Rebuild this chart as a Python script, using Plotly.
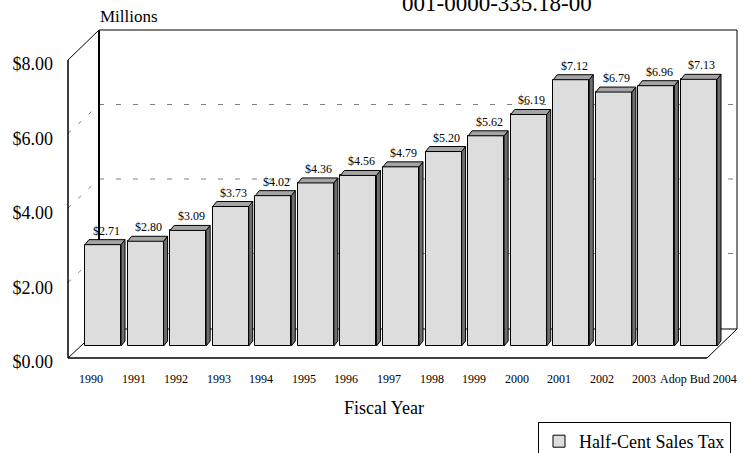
import plotly.graph_objects as go

# ---- data ----
categories = ["1990", "1991", "1992", "1993", "1994", "1995", "1996", "1997",
              "1998", "1999", "2000", "2001", "2002", "2003", "Adop Bud 2004"]
values = [2.71, 2.80, 3.09, 3.73, 4.02, 4.36, 4.56, 4.79,
          5.20, 5.62, 6.19, 7.12, 6.79, 6.96, 7.13]
y_ticks = [0, 2, 4, 6, 8]
y_tick_labels = ["$0.00", "$2.00", "$4.00", "$6.00", "$8.00"]
series_name = "Half-Cent Sales Tax"
title_text = "001-0000-335.18-00"

FONT = "Liberation Serif, Times New Roman, serif"
W, H = 748, 453
L, R, T, B = 68, 11, 30, 91
PW, PH = W - L - R, H - T - B


def px(x):
    return (x - L) / PW


def py(y):
    return (H - B - y) / PH


idx = list(range(len(categories)))
bar_w = 0.846
dx = 4 / 42.57      # depth in x data units
dy = 5 / 37.4       # depth in y data units

fig = go.Figure()
fig.add_trace(go.Bar(
    x=idx, y=values, width=bar_w, name=series_name,
    marker=dict(color="#dddddd", line=dict(color="black", width=1)),
    hoverinfo="skip", showlegend=True,
))
# invisible trace for the front value axis
fig.add_trace(go.Scatter(x=[None], y=[None], xaxis="x", yaxis="y2",
                         showlegend=False, hoverinfo="skip"))

shapes = []
# 3D faces of bars
for i, v in zip(idx, values):
    xl, xr = i - bar_w / 2, i + bar_w / 2
    shapes.append(dict(type="path", xref="x", yref="y", layer="above",
                       path=f"M {xr} 0 L {xr+dx} {dy} L {xr+dx} {v+dy} L {xr} {v} Z",
                       fillcolor="#6e6e6e", line=dict(color="black", width=1)))
    shapes.append(dict(type="path", xref="x", yref="y", layer="above",
                       path=f"M {xl} {v} L {xl+dx} {v+dy} L {xr+dx} {v+dy} L {xr} {v} Z",
                       fillcolor="#a4a4a4", line=dict(color="black", width=1)))

# gridlines on back wall and side wall (dashed)
for v in y_ticks[1:-1]:
    shapes.append(dict(type="line", xref="paper", yref="y2", layer="below",
                       ysizemode="pixel", yanchor=v, x0=px(99), x1=px(737), y0=34, y1=34,
                       line=dict(color="#808080", width=1, dash="5px,12px")))
    shapes.append(dict(type="line", xref="paper", yref="y2", layer="below",
                       ysizemode="pixel", yanchor=v, x0=0, x1=px(99), y0=5, y1=34,
                       line=dict(color="#808080", width=1, dash="4px,10px")))

# box frame (chart chrome)
def seg(x0, y0, x1, y1, w=1, layer="below"):
    shapes.append(dict(type="line", xref="paper", yref="paper", layer=layer,
                       x0=px(x0), y0=py(y0), x1=px(x1), y1=py(y1),
                       line=dict(color="black", width=w)))

seg(99, 30, 737, 30)          # back wall top
seg(737, 30, 737, 329)        # back wall right
seg(99, 30, 99, 329, 2)       # back wall left
seg(99, 329, 737, 329)        # floor back
seg(68, 60, 99, 30)           # side wall top
seg(68, 60, 68, 358, 1.5)     # front left edge
seg(68, 358, 99, 329)         # floor left diagonal
seg(68, 358, 707, 358, 1.5)   # floor front
seg(707, 358, 737, 329)       # floor right diagonal

annotations = []
for i, v in zip(idx, values):
    annotations.append(dict(x=i, y=v, xref="x", yref="y", text=f"${v:.2f}",
                            showarrow=False, xshift=3, yshift=14,
                            xanchor="center", yanchor="middle",
                            font=dict(family=FONT, size=12, color="black")))
for i, c in zip(idx, categories):
    annotations.append(dict(x=i, y=py(379), xref="x", yref="paper", text=c,
                            showarrow=False, xshift=(0 if i == len(categories) - 1 else -12),
                            xanchor="center", yanchor="middle",
                            font=dict(family=FONT, size=12, color="black")))
annotations.append(dict(x=px(384), y=py(408), xref="paper", yref="paper",
                        text="Fiscal Year", showarrow=False,
                        xanchor="center", yanchor="middle",
                        font=dict(family=FONT, size=18, color="black")))
annotations.append(dict(x=px(128.5), y=py(17), xref="paper", yref="paper",
                        text="Millions", showarrow=False,
                        xanchor="center", yanchor="middle",
                        font=dict(family=FONT, size=17, color="black")))
annotations.append(dict(x=px(496.5), y=py(3), xref="paper", yref="paper",
                        text=title_text, showarrow=False,
                        xanchor="center", yanchor="middle",
                        font=dict(family=FONT, size=23, color="black")))

fig.update_layout(
    width=W, height=H,
    margin=dict(l=L, r=R, t=T, b=B, pad=0, autoexpand=False),
    paper_bgcolor="white", plot_bgcolor="rgba(0,0,0,0)",
    showlegend=True,
    xaxis=dict(range=[(L - 103) / 42.57, (W - R - 103) / 42.57], visible=False,
               fixedrange=True),
    yaxis=dict(range=[(346 - (H - B)) / 37.4, (346 - T) / 37.4], visible=False,
               fixedrange=True),
    yaxis2=dict(range=[0, 8], domain=[0, py(64)], anchor="free", position=0,
                side="left", tickvals=y_ticks, ticktext=y_tick_labels,
                showgrid=False, zeroline=False, showline=False, ticks="",
                ticklabelstandoff=15, fixedrange=True,
                tickfont=dict(family=FONT, size=18, color="black")),
    legend=dict(x=px(538), y=py(422), xanchor="left", yanchor="top",
                bgcolor="white", bordercolor="black", borderwidth=1,
                font=dict(family=FONT, size=18, color="black")),
    shapes=shapes, annotations=annotations,
    bargap=0,
)

fig.write_html("out.html")
